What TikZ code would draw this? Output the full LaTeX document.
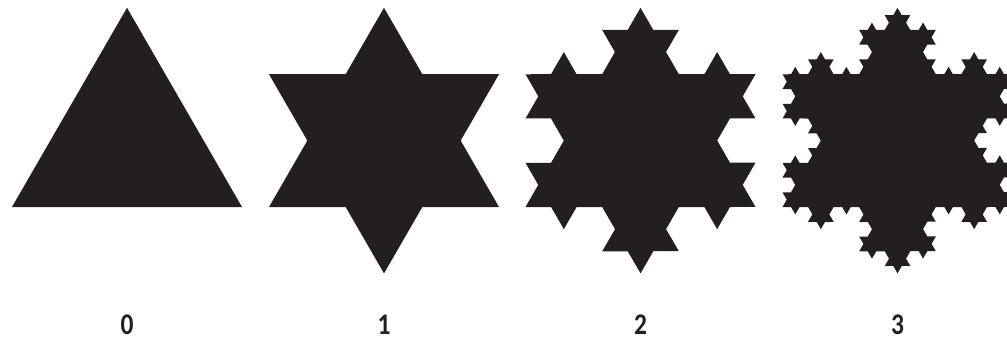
\documentclass[tikz,border=0pt]{standalone}
\usepackage{fontspec}
\setmainfont{Carlito}
\usetikzlibrary{decorations.fractals}
\definecolor{flake}{HTML}{231F20}
\begin{document}
\begin{tikzpicture}[x=1pt, y=1pt, decoration=Koch snowflake,
  flakefill/.style={fill=flake},
  every node/.style={inner sep=1pt, xscale=0.85, font=\bfseries\fontsize{30}{30}\selectfont, text=flake}]
  \useasboundingbox (0,0) rectangle (1007,341);
  \clip (0,0) rectangle (1007,341);
  \fill[flakefill] (12,134) -- (127,333.2) -- (242,134) -- cycle;
  \fill[flakefill] decorate{(269,134) -- (384,333.2) -- (499,134) -- (269,134)};
  \fill[flakefill] decorate{decorate{(525.5,134) -- (640.5,333.2) -- (755.5,134) -- (525.5,134)}};
  \fill[flakefill] decorate{decorate{decorate{(782.5,134) -- (897.5,333.2) -- (1012.5,134) -- (782.5,134)}}};
  \node (n0) at (127,16) {0};
  \node (n1) at (384,16) {1};
  \node (n2) at (640.5,16) {2};
  \node (n3) at (897.5,16) {3};
\end{tikzpicture}
\end{document}
